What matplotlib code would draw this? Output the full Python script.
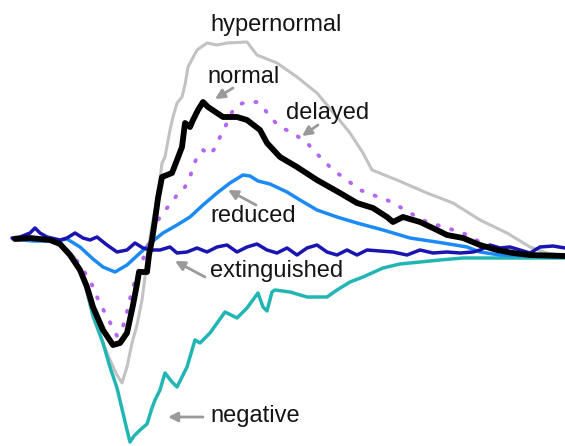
import matplotlib
matplotlib.use("Agg")
import matplotlib.pyplot as plt

plt.rcParams['font.family'] = ['Liberation Sans', 'DejaVu Sans']

# ---- waveform data: time (arbitrary units) and amplitude (arbitrary units) ----
t_hyper = [15, 40, 60, 75, 85, 93, 103, 110, 117, 122, 127, 132, 137, 142, 145, 148, 152, 155, 158,
           162, 165, 170, 173, 177, 182, 185, 188, 197, 207, 217, 227, 247, 257, 277, 297, 317, 337,
           350, 363, 372, 397, 427, 453, 480, 507, 530, 547, 565]
a_hyper = [1, 1, -3, -18, -45, -78, -103, -120, -135, -143, -127, -103, -85, -60, -37, -10, 15, 30, 45,
           77, 83, 110, 123, 137, 143, 155, 173, 190, 197, 195, 197, 198, 185, 177, 163, 147, 123,
           107, 87, 70, 60, 47, 37, 20, 7, -7, -13, -16]

t_neg = [15, 40, 60, 73, 85, 93, 103, 110, 117, 123, 127, 130, 134, 140, 147, 152, 155, 160, 165,
         172, 177, 187, 195, 200, 210, 225, 237, 247, 258, 263, 267, 272, 275, 290, 307, 327, 337,
         350, 363, 383, 400, 420, 440, 463, 497, 565]
a_neg = [1, 1, -3, -17, -43, -75, -103, -127, -148, -173, -190, -202, -196, -190, -184, -168, -160, -150, -133,
         -142, -147, -127, -100, -103, -93, -72, -78, -68, -53, -67, -71, -52, -50, -52, -57, -57, -50,
         -42, -37, -28, -24, -22, -20, -18, -18, -18]

t_red = [13, 33, 57, 67, 80, 93, 103, 115, 127, 140, 153, 163, 177, 190, 203, 217, 230, 243, 250,
         258, 270, 287, 300, 317, 337, 357, 383, 410, 443, 467, 480, 500, 565]
a_red = [1, -1, -1, 1, -7, -19, -27, -32, -25, -13, -1, 7, 15, 23, 35, 47, 57, 65, 64,
         59, 56, 48, 40, 30, 23, 17, 10, 2, -3, -7, -12, -15, -17]

t_ext = [12, 20, 30, 35, 40, 47, 60, 67, 75, 83, 90, 97, 107, 117, 127, 135, 143, 150, 160, 170,
         177, 187, 197, 207, 217, 227, 237, 247, 257, 267, 277, 287, 297, 307, 317, 327, 337, 347,
         357, 367, 380, 393, 407, 420, 433, 447, 460, 473, 480, 490, 500, 510, 520, 530, 540, 553, 565]
a_ext = [2, 3, 7, 12, 7, 3, 0, 2, 7, 2, 0, 3, -5, -12, -10, -3, -8, -10, -10, -7,
         -13, -12, -8, -12, -7, -5, -12, -7, -4, -10, -13, -8, -15, -8, -5, -12, -15, -10,
         -15, -10, -11, -12, -15, -10, -13, -12, -13, -12, -10, -5, -8, -7, -10, -13, -7, -6, -8]

t_del = [15, 40, 60, 75, 83, 90, 97, 105, 113, 117, 122, 127, 132, 137, 142, 147, 152, 157, 163,
         172, 178, 185, 190, 193, 197, 203, 210, 215, 220, 227, 233, 240, 247, 257, 263, 270, 280,
         293, 307, 320, 333, 347, 360, 373, 387, 400, 410, 427, 447, 463, 480, 490, 510, 540, 565]
a_del = [1, 1, -3, -18, -30, -40, -57, -73, -88, -96, -90, -72, -50, -35, -22, -8, 5, 18, 28,
         37, 47, 53, 63, 73, 83, 90, 85, 92, 103, 117, 130, 136, 138, 138, 133, 123, 113,
         107, 97, 83, 70, 60, 50, 45, 40, 33, 27, 18, 12, 7, -2, -7, -12, -15, -16]

t_norm = [15, 30, 50, 60, 70, 80, 87, 93, 103, 113, 120, 127, 133, 137, 139, 147, 149, 152, 155, 158,
          162, 172, 182, 185, 190, 193, 198, 203, 208, 217, 223, 237, 247, 260, 267, 280, 297, 317,
          340, 357, 373, 387, 393, 403, 420, 437, 447, 463, 480, 497, 513, 530, 565]
a_norm = [1, 2, 0, -4, -15, -30, -47, -67, -90, -105, -103, -93, -65, -44, -32, -32, -15, 0, 20, 42,
          63, 67, 93, 117, 113, 120, 130, 138, 133, 127, 123, 123, 120, 110, 97, 83, 73, 60,
          47, 37, 32, 23, 18, 23, 18, 10, 5, 2, -5, -10, -13, -15, -16]

# ---- figure ----
fig = plt.figure(figsize=(5.65, 4.46), dpi=100)
ax = fig.add_axes([0, 0, 1, 1])
ax.set_xlim(0, 565)
ax.set_ylim(-206, 240)
ax.axis('off')

kw = dict(solid_joinstyle='round', solid_capstyle='round')
ax.plot(t_hyper, a_hyper, color='#c2c2c2', lw=2.2, **kw)
ax.plot(t_neg, a_neg, color='#22b5b3', lw=2.5, **kw)
ax.plot(t_red, a_red, color='#1b8af5', lw=2.5, **kw)
ax.plot(t_ext, a_ext, color='#1a14b0', lw=2.5, **kw)
ax.plot(t_del, a_del, color='#b366f2', lw=2.8, linestyle=(0, (0.3, 3.3)),
        dash_capstyle='round')
ax.plot(t_norm, a_norm, color='#000000', lw=4.2, **kw)

# ---- labels ----
txt = dict(fontsize=17, color='#151515', ha='left', va='baseline')
ax.text(210, 209, 'hypernormal', **txt)
ax.text(207, 157, 'normal', **txt)
ax.text(286, 121, 'delayed', **txt)
ax.text(210, 18, 'reduced', **txt)
ax.text(210, -37, 'extinguished', **txt)
ax.text(210, -182, 'negative', **txt)

arrow = dict(arrowstyle='-|>', color='#9a9a9a', lw=2.0, mutation_scale=14,
             shrinkA=0, shrinkB=0)
ax.annotate('', xy=(215, 141), xytext=(233, 152), arrowprops=arrow)
ax.annotate('', xy=(302, 104), xytext=(318, 115), arrowprops=arrow)
ax.annotate('', xy=(228, 50), xytext=(256, 35), arrowprops=arrow)
ax.annotate('', xy=(175, -21), xytext=(205, -37), arrowprops=arrow)
ax.annotate('', xy=(168, -177), xytext=(203, -177), arrowprops=arrow)

fig.savefig('out.png', dpi=100)
